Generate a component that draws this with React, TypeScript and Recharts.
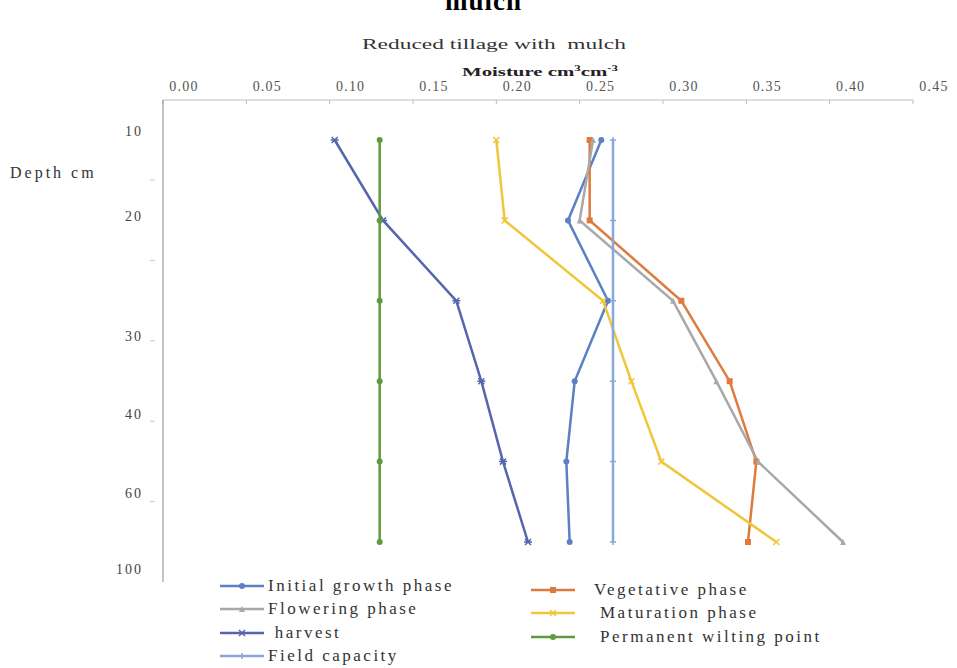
import React from 'react';
import { LineChart, Line, XAxis, YAxis } from 'recharts';

// depth rows (cm) and moisture readings (cm3/cm3)
const depths = ['10', '20', '30', '40', '60', '100'];
const initialGrowth = [0.263, 0.243, 0.267, 0.247, 0.242, 0.244];
const vegetative = [0.256, 0.256, 0.311, 0.340, 0.356, 0.351];
const flowering = [0.258, 0.250, 0.306, 0.332, 0.357, 0.408];
const maturation = [0.200, 0.205, 0.264, 0.281, 0.299, 0.368];
const harvest = [0.103, 0.132, 0.176, 0.191, 0.204, 0.219];
const wiltingPoint = [0.13, 0.13, 0.13, 0.13, 0.13, 0.13];
const fieldCapacity = [0.27, 0.27, 0.27, 0.27, 0.27, 0.27];
const moistureTicks = [0, 0.05, 0.1, 0.15, 0.2, 0.25, 0.3, 0.35, 0.4, 0.45];

const data = depths.map((d, i) => ({
    depth: d,
    initialGrowth: initialGrowth[i],
    vegetative: vegetative[i],
    flowering: flowering[i],
    maturation: maturation[i],
    harvest: harvest[i],
    wiltingPoint: wiltingPoint[i],
    fieldCapacity: fieldCapacity[i],
}));

type Shape = 'circle' | 'square' | 'triangle' | 'x' | 'star' | 'plus';

const series: { key: string; name: string; color: string; shape: Shape }[] = [
    { key: 'initialGrowth', name: 'Initial growth phase', color: '#5b80c4', shape: 'circle' },
    { key: 'vegetative', name: 'Vegetative phase', color: '#e07a3c', shape: 'square' },
    { key: 'flowering', name: 'Flowering phase', color: '#a8a8a8', shape: 'triangle' },
    { key: 'maturation', name: 'Maturation phase', color: '#f0c63a', shape: 'x' },
    { key: 'harvest', name: ' harvest', color: '#5566ad', shape: 'star' },
    { key: 'wiltingPoint', name: 'Permanent wilting point', color: '#5f9a3c', shape: 'circle' },
    { key: 'fieldCapacity', name: 'Field capacity', color: '#86a8dc', shape: 'plus' },
];

const serif = '"Liberation Serif", "DejaVu Serif", serif';

const marker = (shape: Shape, color: string, cx: number, cy: number, key?: any) => {
    const s = 3;
    switch (shape) {
        case 'square':
            return <rect key={key} x={cx - s} y={cy - s} width={s * 2} height={s * 2} fill={color} />;
        case 'triangle':
            return <path key={key} d={`M${cx},${cy - s} L${cx + s},${cy + s} L${cx - s},${cy + s} Z`} fill={color} />;
        case 'x':
            return <path key={key} d={`M${cx - s},${cy - s} L${cx + s},${cy + s} M${cx + s},${cy - s} L${cx - s},${cy + s}`} stroke={color} strokeWidth={1.5} />;
        case 'star':
            return <path key={key} d={`M${cx - s},${cy - s} L${cx + s},${cy + s} M${cx + s},${cy - s} L${cx - s},${cy + s} M${cx - s - 1},${cy} L${cx + s + 1},${cy}`} stroke={color} strokeWidth={1.5} />;
        case 'plus':
            return <path key={key} d={`M${cx - s},${cy} L${cx + s},${cy} M${cx},${cy - s} L${cx},${cy + s}`} stroke={color} strokeWidth={1.5} />;
        default:
            return <circle key={key} cx={cx} cy={cy} r={s} fill={color} />;
    }
};

const makeDot = (shape: Shape, color: string) => (props: any) =>
    marker(shape, color, props.cx, props.cy, props.key ?? `${props.index}`);

// the depth labels sit a little off their rows in the original figure
const depthLabelShift = [-9, -4, 35, 33, 31, 27];
const rowHalf = 40;

const DepthTick = (props: any) => {
    const { x, y, payload, index } = props;
    return (
        <g>
            <text x={x - 12} y={y + depthLabelShift[index]} dy={5} textAnchor="end" fontFamily={serif} fontSize={14} letterSpacing={2} fill="#444">
                {payload.value}
            </text>
            {index < depths.length - 1 && (
                <line x1={x - 5} x2={x} y1={y + rowHalf} y2={y + rowHalf} stroke="#c8c8c8" />
            )}
        </g>
    );
};

const MoistureTick = (props: any) => {
    const { x, y, payload } = props;
    return (
        <text x={x + 21} y={y - 11} textAnchor="middle" fontFamily={serif} fontSize={14} letterSpacing={1.2} fill="#555">
            {payload.value.toFixed(2)}
        </text>
    );
};

const LegendItem = ({ s, gap }: { s: (typeof series)[number]; gap: number }) => (
    <div style={{ display: 'flex', alignItems: 'center', height: 23.5 }}>
        <svg width={48} height={12}>
            <line x1={2} x2={46} y1={6} y2={6} stroke={s.color} strokeWidth={2.5} />
            {marker(s.shape, s.color, 24, 6)}
        </svg>
        <span style={{ marginLeft: gap, whiteSpace: 'pre' }}>{s.name}</span>
    </div>
);

const App: React.FC = () => {
    const byKey = (k: string) => series.find((s) => s.key === k)!;
    const leftCol = ['initialGrowth', 'flowering', 'harvest', 'fieldCapacity'].map(byKey);
    const rightCol = ['vegetative', 'maturation', 'wiltingPoint'].map(byKey);
    const legendText = { fontSize: 17, color: '#333', letterSpacing: 2.5 };

    return (
        <div style={{ position: 'relative', width: 957, height: 668, background: '#fff', overflow: 'hidden', fontFamily: serif }}>
            <style>{'body{margin:0}'}</style>
            <div style={{ position: 'absolute', top: -14, left: 445, fontSize: 27, fontWeight: 'bold', letterSpacing: 1 }}>
                mulch
            </div>
            <div style={{ position: 'absolute', top: 36, left: 362, fontSize: 15, color: '#333', transform: 'scaleX(1.56)', transformOrigin: 'left', whiteSpace: 'pre' }}>
                Reduced tillage with  mulch
            </div>
            <div style={{ position: 'absolute', top: 64, left: 462, fontSize: 13, fontWeight: 'bold', color: '#222', transform: 'scaleX(1.6)', transformOrigin: 'left', whiteSpace: 'pre' }}>
                Moisture cm<sup style={{ fontSize: 8 }}>3</sup>cm<sup style={{ fontSize: 8 }}>-3</sup>
            </div>
            <div style={{ position: 'absolute', top: 164, left: 10, fontSize: 16, color: '#333', letterSpacing: 3 }}>Depth cm</div>

            <LineChart
                width={957}
                height={668}
                data={data}
                layout="vertical"
                margin={{ top: 70, right: 44, left: 103, bottom: 86 }}
            >
                <XAxis
                    type="number"
                    orientation="top"
                    domain={[0, 0.45]}
                    ticks={moistureTicks}
                    height={30}
                    axisLine={{ stroke: '#d4d4d4', strokeWidth: 1.5 }}
                    tickLine={{ stroke: '#bdbdbd' }}
                    tickSize={-4}
                    tick={<MoistureTick />}
                    interval={0}
                />
                <YAxis
                    type="category"
                    dataKey="depth"
                    width={60}
                    padding={{ top: rowHalf, bottom: rowHalf }}
                    axisLine={{ stroke: '#8a8a8a' }}
                    tickLine={false}
                    tick={<DepthTick />}
                    interval={0}
                />
                {series.map((s) => (
                    <Line
                        key={s.key}
                        dataKey={s.key}
                        name={s.name}
                        stroke={s.color}
                        strokeWidth={2.5}
                        dot={makeDot(s.shape, s.color)}
                        activeDot={false}
                        isAnimationActive={false}
                    />
                ))}
            </LineChart>

            <div style={{ position: 'absolute', top: 574, left: 218, ...legendText }}>
                {leftCol.map((s) => (
                    <LegendItem key={s.key} s={s} gap={2} />
                ))}
            </div>
            <div style={{ position: 'absolute', top: 578, left: 529, ...legendText }}>
                {rightCol.map((s, i) => (
                    <LegendItem key={s.key} s={s} gap={i === 0 ? 17 : 23} />
                ))}
            </div>
        </div>
    );
};

export default App;
